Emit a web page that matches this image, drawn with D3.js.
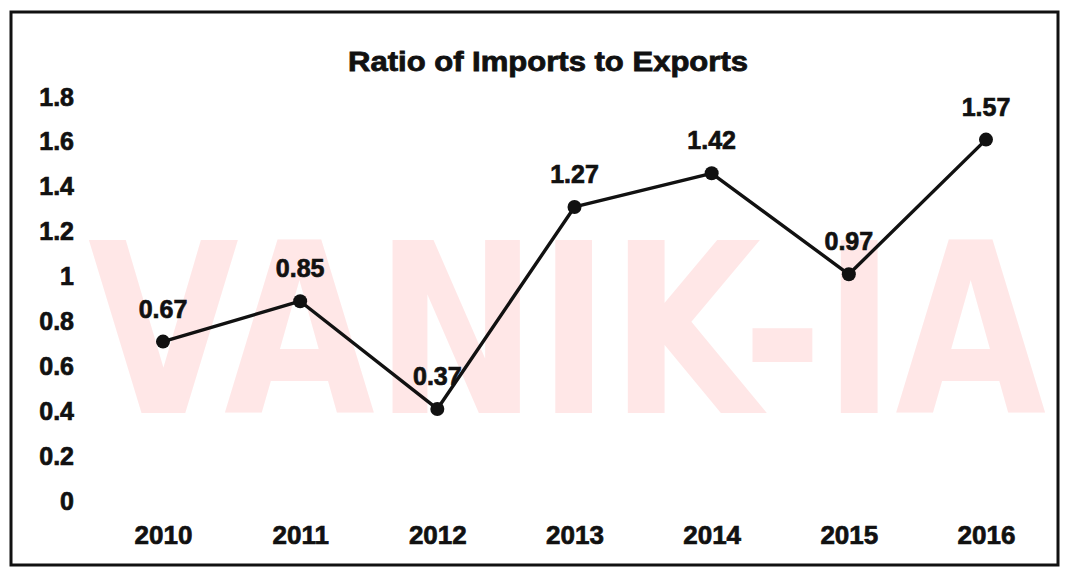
<!DOCTYPE html>
<html>
<head>
<meta charset="utf-8">
<script src="https://cdn.jsdelivr.net/npm/d3@7"></script>
<style>
  html, body { margin: 0; padding: 0; background: #fff; }
  svg { display: block; font-family: 'Liberation Sans', Arial, sans-serif; }
  .tick text, .lbl { font-weight: bold; fill: #111; stroke: #111; stroke-width: 0.7px; }
</style>
</head>
<body>
<svg id="chart" width="1078" height="568"></svg>
<script>
// chart values
const years = ['2010', '2011', '2012', '2013', '2014', '2015', '2016'];
const ratios = [0.67, 0.85, 0.37, 1.27, 1.42, 0.97, 1.57];
const yTicks = [0, 0.2, 0.4, 0.6, 0.8, 1, 1.2, 1.4, 1.6, 1.8];
const title = 'Ratio of Imports to Exports';
const watermark = 'VANIK-IA';

const svg = d3.select('#chart');

// scanned frame around the chart
svg.append('rect')
  .attr('x', 11)
  .attr('y', 12)
  .attr('width', 1047)
  .attr('height', 553)
  .attr('fill', '#fff')
  .attr('stroke', '#111')
  .attr('stroke-width', 3);

// light red watermark behind everything
svg.append('text')
  .attr('x', 88)
  .attr('y', 413)
  .attr('textLength', 958)
  .attr('lengthAdjust', 'spacingAndGlyphs')
  .style('font-family', "'DejaVu Sans Condensed', 'DejaVu Sans', sans-serif")
  .style('font-weight', 'bold')
  .style('font-size', '238px')
  .style('fill', '#ffe7e7')
  .text(watermark);

const x = d3.scalePoint()
  .domain(years)
  .range([163, 986]);

const y = d3.scaleLinear()
  .domain([0, 1.8])
  .range([492, 88]);

svg.append('text')
  .attr('x', 548)
  .attr('y', 71)
  .attr('text-anchor', 'middle')
  .attr('textLength', 400)
  .attr('lengthAdjust', 'spacingAndGlyphs')
  .style('font-size', '27px')
  .style('font-weight', 'bold')
  .style('fill', '#111')
  .style('stroke', '#111')
  .style('stroke-width', '0.8px')
  .text(title);

// y axis: labels only, no line or ticks
const yAxis = svg.append('g')
  .attr('transform', 'translate(74,0)')
  .call(d3.axisLeft(y).tickValues(yTicks).tickSize(0).tickPadding(0)
    .tickFormat((d) => d3.format('~g')(d)));
yAxis.select('.domain').remove();
yAxis.selectAll('text')
  .attr('dy', '0.68em')
  .style('font-size', '25px')
  .style('font-family', "'Liberation Sans', Arial, sans-serif");

// x axis: year labels only
const xAxis = svg.append('g')
  .attr('transform', 'translate(0,522)')
  .call(d3.axisBottom(x).tickSize(0).tickPadding(0));
xAxis.select('.domain').remove();
xAxis.selectAll('text')
  .attr('dy', '0.86em')
  .style('font-size', '26px')
  .style('font-family', "'Liberation Sans', Arial, sans-serif");

const pts = years.map((yr, i) => ({ year: yr, value: ratios[i] }));

svg.append('path')
  .datum(pts)
  .attr('fill', 'none')
  .attr('stroke', '#111')
  .attr('stroke-width', 3.4)
  .attr('stroke-linejoin', 'round')
  .attr('d', d3.line().x((d) => x(d.year)).y((d) => y(d.value)));

svg.selectAll('circle.pt')
  .data(pts)
  .join('circle')
  .attr('class', 'pt')
  .attr('cx', (d) => x(d.year))
  .attr('cy', (d) => y(d.value))
  .attr('r', 7)
  .attr('fill', '#111');

svg.selectAll('text.lbl')
  .data(pts)
  .join('text')
  .attr('class', 'lbl')
  .attr('x', (d) => x(d.year))
  .attr('y', (d) => y(d.value) - 24)
  .attr('text-anchor', 'middle')
  .style('font-size', '25px')
  .text((d) => d3.format('.2f')(d.value));
</script>
</body>
</html>
